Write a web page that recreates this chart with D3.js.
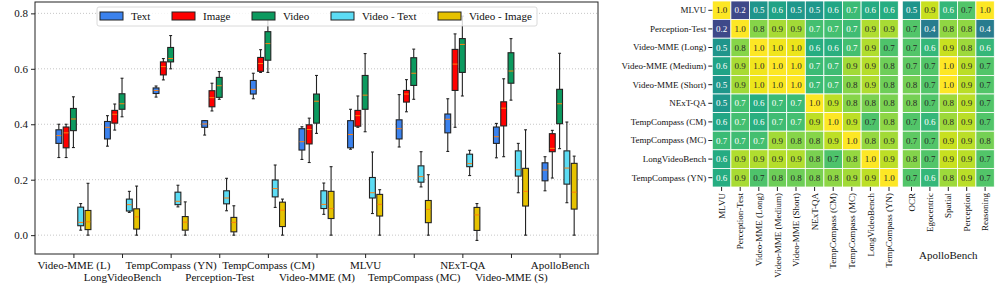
<!DOCTYPE html>
<html>
<head>
<meta charset="utf-8">
<script src="https://cdn.jsdelivr.net/npm/d3@7"></script>
<style>
  body { margin: 0; background: #fff; }
  svg { display: block; }
  text { font-family: "Liberation Serif", "Times New Roman", serif; fill: #111; }
</style>
</head>
<body>
<div id="chart"></div>
<script>
// ---- box plot data: [whiskerLow, q1, median, q3, whiskerHigh] per benchmark
const benchmarks = ["Video-MME (L)", "LongVideoBench", "TempCompass (YN)", "Perception-Test",
    "TempCompass (CM)", "Video-MME (M)", "MLVU", "TempCompass (MC)", "NExT-QA",
    "Video-MME (S)", "ApolloBench"];
const seriesNames = ["Text", "Image", "Video", "Video - Text", "Video - Image"];

const textStats = [
    [0.280, 0.331, 0.359, 0.380, 0.400], [0.321, 0.347, 0.389, 0.410, 0.431],
    [0.498, 0.511, 0.522, 0.531, 0.538], [0.361, 0.389, 0.401, 0.413, 0.413],
    [0.492, 0.509, 0.526, 0.558, 0.584], [0.273, 0.307, 0.337, 0.384, 0.391],
    [0.310, 0.315, 0.363, 0.413, 0.454], [0.318, 0.347, 0.384, 0.416, 0.507],
    [0.302, 0.369, 0.418, 0.437, 0.492], [0.279, 0.331, 0.355, 0.390, 0.403],
    [0.160, 0.196, 0.235, 0.261, 0.283]];
const imageStats = [
    [0.280, 0.315, 0.369, 0.390, 0.400], [0.379, 0.404, 0.436, 0.450, 0.473],
    [0.560, 0.578, 0.608, 0.625, 0.637], [0.448, 0.463, 0.496, 0.521, 0.548],
    [0.587, 0.591, 0.619, 0.641, 0.669], [0.262, 0.329, 0.381, 0.398, 0.422],
    [0.389, 0.393, 0.431, 0.450, 0.502], [0.445, 0.480, 0.509, 0.522, 0.561],
    [0.389, 0.522, 0.617, 0.670, 0.726], [0.283, 0.394, 0.458, 0.481, 0.564],
    [0.206, 0.301, 0.313, 0.366, 0.378]];
const videoStats = [
    [0.316, 0.377, 0.419, 0.457, 0.499], [0.427, 0.454, 0.474, 0.510, 0.566],
    [0.600, 0.625, 0.637, 0.677, 0.720], [0.490, 0.497, 0.539, 0.569, 0.590],
    [0.587, 0.631, 0.691, 0.734, 0.800], [0.367, 0.404, 0.483, 0.509, 0.576],
    [0.373, 0.454, 0.505, 0.576, 0.655], [0.490, 0.540, 0.584, 0.640, 0.671],
    [0.502, 0.587, 0.688, 0.709, 0.790], [0.487, 0.548, 0.592, 0.658, 0.709],
    [0.312, 0.402, 0.474, 0.526, 0.656]];
const videoTextStats = [
    [0.018, 0.034, 0.046, 0.101, 0.114], [0.082, 0.087, 0.110, 0.130, 0.158],
    [0.102, 0.110, 0.122, 0.155, 0.180], [0.088, 0.113, 0.134, 0.160, 0.205],
    [0.100, 0.138, 0.168, 0.199, 0.253], [0.075, 0.096, 0.111, 0.160, 0.188],
    [0.078, 0.134, 0.153, 0.208, 0.300], [0.174, 0.191, 0.211, 0.250, 0.301],
    [0.215, 0.247, 0.258, 0.292, 0.306], [0.153, 0.213, 0.236, 0.304, 0.331],
    [0.117, 0.184, 0.242, 0.304, 0.408]];
const videoImageStats = [
    [0.000, 0.020, 0.048, 0.089, 0.187], [0.000, 0.022, 0.066, 0.095, 0.177],
    [0.000, 0.018, 0.047, 0.067, 0.120], [0.000, 0.012, 0.046, 0.064, 0.106],
    [0.000, 0.031, 0.090, 0.119, 0.130], [0.000, 0.060, 0.096, 0.158, 0.247],
    [0.000, 0.069, 0.111, 0.147, 0.164], [0.000, 0.045, 0.093, 0.125, 0.218],
    [-0.019, 0.017, 0.073, 0.100, 0.114], [0.000, 0.105, 0.158, 0.241, 0.380],
    [0.000, 0.094, 0.155, 0.259, 0.285]];
const yTicks = [0.0, 0.2, 0.4, 0.6, 0.8];

// ---- heatmap data
const heatRows = ["MLVU", "Perception-Test", "Video-MME (Long)", "Video-MME (Medium)",
    "Video-MME (Short)", "NExT-QA", "TempCompass (CM)", "TempCompass (MC)",
    "LongVideoBench", "TempCompass (YN)"];
const heatCols = heatRows;
const apolloCols = ["OCR", "Egocentric", "Spatial", "Perception", "Reasoning"];
const corrValues = [
    [1.00, 0.22, 0.52, 0.58, 0.53, 0.53, 0.59, 0.68, 0.61, 0.62],
    [0.22, 1.00, 0.82, 0.87, 0.86, 0.70, 0.70, 0.69, 0.88, 0.87],
    [0.52, 0.82, 1.00, 0.98, 0.97, 0.62, 0.63, 0.70, 0.88, 0.72],
    [0.58, 0.87, 0.98, 1.00, 0.99, 0.68, 0.69, 0.86, 0.89, 0.78],
    [0.53, 0.86, 0.97, 0.99, 1.00, 0.68, 0.70, 0.82, 0.88, 0.78],
    [0.53, 0.70, 0.62, 0.68, 0.68, 1.00, 0.90, 0.82, 0.80, 0.80],
    [0.59, 0.70, 0.63, 0.69, 0.70, 0.90, 1.00, 0.90, 0.72, 0.83],
    [0.68, 0.69, 0.70, 0.86, 0.82, 0.82, 0.90, 1.00, 0.84, 0.86],
    [0.61, 0.88, 0.88, 0.89, 0.88, 0.80, 0.72, 0.84, 1.00, 0.90],
    [0.62, 0.87, 0.72, 0.78, 0.78, 0.80, 0.83, 0.86, 0.90, 1.00]];
const apolloValues = [
    [0.50, 0.88, 0.64, 0.70, 0.96],
    [0.70, 0.40, 0.80, 0.80, 0.40],
    [0.70, 0.64, 0.88, 0.82, 0.64],
    [0.72, 0.70, 0.96, 0.86, 0.70],
    [0.76, 0.70, 0.96, 0.86, 0.70],
    [0.76, 0.70, 0.82, 0.86, 0.70],
    [0.70, 0.64, 0.82, 0.86, 0.70],
    [0.72, 0.70, 0.88, 0.86, 0.76],
    [0.78, 0.70, 0.88, 0.86, 0.70],
    [0.70, 0.64, 0.82, 0.86, 0.70]];

const seriesStats = [textStats, imageStats, videoStats, videoTextStats, videoImageStats];
const seriesColors = ["#3b82ee", "#ff0000", "#0c9a5f", "#5cdcf4", "#e6c200"];

const W = 997, H = 286;
const svg = d3.select("#chart").append("svg").attr("width", W).attr("height", H);

// ================= box plot =================
const box = { left: 35, right: 598, top: 2, bottom: 254 };
const x = d3.scaleLinear().domain([-0.79, 10.79]).range([box.left, box.right]);
const y = d3.scaleLinear().domain([-0.068, 0.841]).range([box.bottom, box.top]);
const offset = 0.15, boxW = x(0.12) - x(0);

const plot = svg.append("g");

plot.append("g").selectAll("line").data(yTicks).join("line")
    .attr("x1", box.left).attr("x2", box.right)
    .attr("y1", d => y(d)).attr("y2", d => y(d))
    .attr("stroke", "#b8b8b8").attr("stroke-width", 0.8).attr("stroke-dasharray", "1,2");

seriesStats.forEach((stats, si) => {
    const g = plot.append("g");
    stats.forEach((s, bi) => {
        const cx = x(bi + (si - 2) * offset);
        const [lo, q1, med, q3, hi] = s;
        const line = (x1, y1, x2, y2, col, w) => g.append("line")
            .attr("x1", x1).attr("y1", y1).attr("x2", x2).attr("y2", y2)
            .attr("stroke", col || "#222").attr("stroke-width", w || 1.1);
        line(cx, y(q3), cx, y(hi));
        line(cx, y(q1), cx, y(lo));
        line(cx - boxW / 4, y(hi), cx + boxW / 4, y(hi));
        line(cx - boxW / 4, y(lo), cx + boxW / 4, y(lo));
        g.append("rect")
            .attr("x", cx - boxW / 2).attr("y", y(q3))
            .attr("width", boxW).attr("height", y(q1) - y(q3))
            .attr("fill", seriesColors[si]).attr("stroke", "#222").attr("stroke-width", 1.1);
        line(cx - boxW / 2 + 0.5, y(med), cx + boxW / 2 - 0.5, y(med), "#ff7f0e", 1);
    });
});

// frame
plot.append("rect").attr("x", box.left).attr("y", box.top)
    .attr("width", box.right - box.left).attr("height", box.bottom - box.top)
    .attr("fill", "none").attr("stroke", "#222").attr("stroke-width", 1);

// y axis
const yAxis = plot.append("g").attr("transform", `translate(${box.left},0)`)
    .call(d3.axisLeft(y).tickValues(yTicks).tickFormat(d3.format(".1f")).tickSize(4).tickPadding(3));
yAxis.select(".domain").remove();
yAxis.selectAll("text").attr("font-size", 11).attr("fill", "#111")
    .style("font-family", '"Liberation Serif", serif');
yAxis.selectAll("line").attr("stroke", "#222");

// x axis (staggered labels)
const xAxis = plot.append("g").attr("transform", `translate(0,${box.bottom})`)
    .call(d3.axisBottom(x).tickValues(d3.range(benchmarks.length)).tickFormat(i => benchmarks[i]).tickSize(4));
xAxis.select(".domain").remove();
xAxis.selectAll("line").attr("stroke", "#222");
xAxis.selectAll("text").attr("font-size", 11).attr("fill", "#111")
    .style("font-family", '"Liberation Serif", serif')
    .attr("dy", null)
    .attr("y", (d, i) => i % 2 === 0 ? 15 : 27);

// legend
const legend = plot.append("g");
legend.append("rect").attr("x", 97).attr("y", 7).attr("width", 440).attr("height", 19)
    .attr("rx", 2).attr("fill", "#fff").attr("fill-opacity", 0.8)
    .attr("stroke", "#d0d0d0").attr("stroke-width", 0.8);
const legendX = [100, 172, 252, 331, 438];
seriesNames.forEach((name, i) => {
    legend.append("rect").attr("x", legendX[i]).attr("y", 12).attr("width", 23).attr("height", 8)
        .attr("fill", seriesColors[i]).attr("stroke", "#222").attr("stroke-width", 1);
    legend.append("text").attr("x", legendX[i] + 31).attr("y", 20)
        .attr("font-size", 11).text(name);
});

// ================= heatmaps =================
function textColor(c) {
    c = d3.rgb(c);
    const lin = u => { u /= 255; return u <= 0.03928 ? u / 12.92 : Math.pow((u + 0.055) / 1.055, 2.4); };
    const L = 0.2126 * lin(c.r) + 0.7152 * lin(c.g) + 0.0722 * lin(c.b);
    return L > 0.408 ? "#262626" : "#ffffff";
}

const hTop = 1, hBottom = 187;
const yRow = d3.scaleBand().domain(heatRows).range([hTop, hBottom]);

function heatmap(cols, values, x0, x1, showRows, color) {
    const xc = d3.scaleBand().domain(cols).range([x0, x1]);
    const g = svg.append("g");
    values.forEach((row, ri) => {
        row.forEach((v, ci) => {
            const cx = xc(cols[ci]), cy = yRow(heatRows[ri]);
            g.append("rect").attr("x", cx).attr("y", cy)
                .attr("width", xc.bandwidth()).attr("height", yRow.bandwidth())
                .attr("fill", color(v)).attr("stroke", "#fff").attr("stroke-width", 0.8);
            g.append("text").attr("x", cx + xc.bandwidth() / 2).attr("y", cy + yRow.bandwidth() / 2)
                .attr("text-anchor", "middle").attr("dominant-baseline", "central")
                .attr("font-size", 9).style("fill", textColor(color(v)))
                .text(d3.format(".1f")(v));
        });
    });
    const ax = g.append("g").attr("transform", `translate(0,${hBottom})`)
        .call(d3.axisBottom(xc).tickSize(4).tickPadding(2));
    ax.select(".domain").remove();
    ax.selectAll("line").attr("stroke", "#222");
    ax.selectAll("text").attr("font-size", 9).attr("fill", "#111")
        .style("font-family", '"Liberation Serif", serif')
        .attr("transform", "rotate(-90)").attr("text-anchor", "end")
        .attr("dy", "0.35em").attr("x", -6).attr("y", 0);
    if (showRows) {
        const ay = g.append("g").attr("transform", `translate(${x0},0)`)
            .call(d3.axisLeft(yRow).tickSize(4).tickPadding(2));
        ay.select(".domain").remove();
        ay.selectAll("line").attr("stroke", "#222");
        ay.selectAll("text").attr("font-size", 9).attr("fill", "#111")
            .style("font-family", '"Liberation Serif", serif');
    }
    return xc;
}

heatmap(heatCols, corrValues, 712.3, 898.3, true,
    d3.scaleSequential(d3.interpolateViridis).domain([0, 1]));
heatmap(apolloCols, apolloValues, 902.3, 994.3, false,
    d3.scaleSequential(d3.interpolateViridis).domain([0, 0.96]));

svg.append("text").attr("x", 948.3).attr("y", 259).attr("text-anchor", "middle")
    .attr("font-size", 11).text("ApolloBench");
</script>
</body>
</html>
